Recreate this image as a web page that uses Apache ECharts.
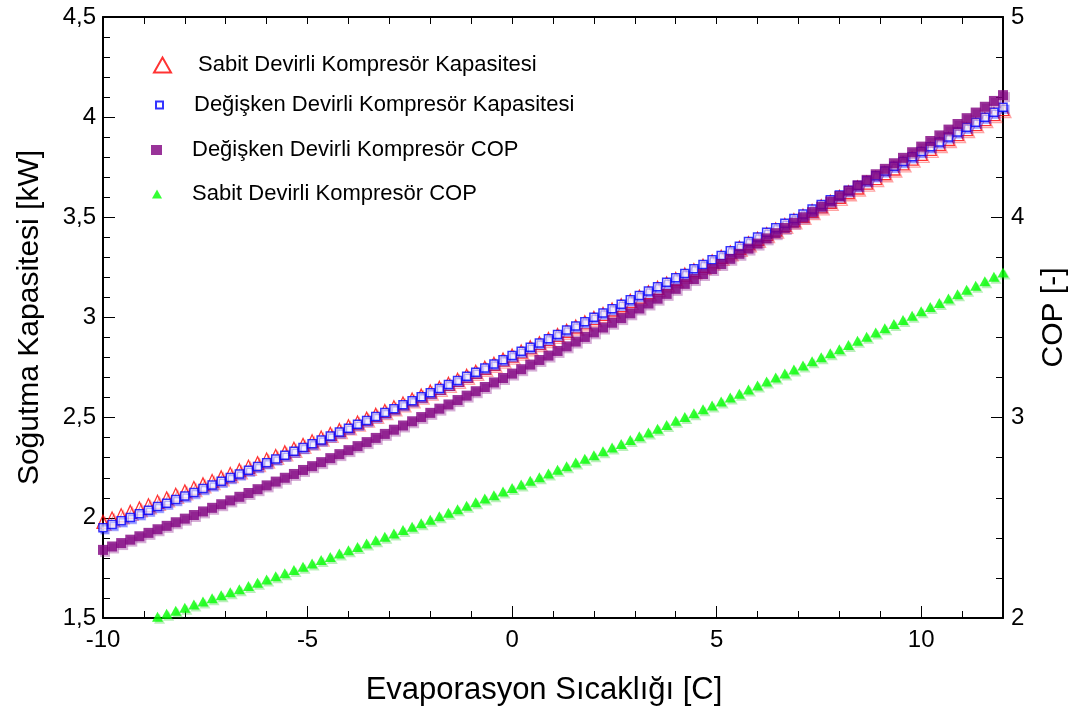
<!DOCTYPE html>
<html>
<head>
<meta charset="utf-8">
<script src="https://cdn.jsdelivr.net/npm/echarts@6/dist/echarts.min.js"></script>
<style>
  html, body { margin: 0; padding: 0; background: #ffffff; }
  #chart { width: 1077px; height: 718px; }
</style>
</head>
<body>
<div id="chart"></div>
<script>
// Evaporation temperature [C]
const temps = [
  -10, -9.778, -9.556, -9.333, -9.111, -8.889, -8.667, -8.444, -8.222,
  -8, -7.778, -7.556, -7.333, -7.111, -6.889, -6.667, -6.444, -6.222,
  -6, -5.778, -5.556, -5.333, -5.111, -4.889, -4.667, -4.444, -4.222,
  -4, -3.778, -3.556, -3.333, -3.111, -2.889, -2.667, -2.444, -2.222,
  -2, -1.778, -1.556, -1.333, -1.111, -0.889, -0.667, -0.444, -0.222,
  0, 0.222, 0.444, 0.667, 0.889, 1.111, 1.333, 1.556, 1.778,
  2, 2.222, 2.444, 2.667, 2.889, 3.111, 3.333, 3.556, 3.778,
  4, 4.222, 4.444, 4.667, 4.889, 5.111, 5.333, 5.556, 5.778,
  6, 6.222, 6.444, 6.667, 6.889, 7.111, 7.333, 7.556, 7.778,
  8, 8.222, 8.444, 8.667, 8.889, 9.111, 9.333, 9.556, 9.778,
  10, 10.222, 10.444, 10.667, 10.889, 11.111, 11.333, 11.556, 11.778,
  12
];

// Fixed-speed compressor cooling capacity [kW]
const capSabit = [
  1.980, 1.997, 2.013, 2.030, 2.047, 2.063, 2.080, 2.097, 2.115, 2.132,
  2.149, 2.167, 2.184, 2.202, 2.219, 2.237, 2.255, 2.273, 2.291, 2.309,
  2.327, 2.345, 2.364, 2.382, 2.401, 2.419, 2.438, 2.457, 2.476, 2.495,
  2.514, 2.533, 2.552, 2.571, 2.591, 2.610, 2.630, 2.649, 2.669, 2.689,
  2.709, 2.729, 2.749, 2.769, 2.790, 2.810, 2.830, 2.851, 2.872, 2.892,
  2.913, 2.934, 2.955, 2.976, 2.997, 3.018, 3.040, 3.061, 3.083, 3.104,
  3.126, 3.148, 3.170, 3.192, 3.214, 3.236, 3.258, 3.280, 3.303, 3.325,
  3.348, 3.370, 3.393, 3.416, 3.439, 3.462, 3.485, 3.508, 3.531, 3.555,
  3.578, 3.602, 3.625, 3.649, 3.673, 3.696, 3.720, 3.744, 3.769, 3.793,
  3.817, 3.842, 3.866, 3.891, 3.915, 3.940, 3.965, 3.990, 4.015, 4.040
];

// Variable-speed compressor cooling capacity [kW]
const capDegisken = [
  1.950, 1.967, 1.985, 2.002, 2.020, 2.038, 2.056, 2.073, 2.091, 2.109,
  2.127, 2.146, 2.164, 2.182, 2.201, 2.219, 2.238, 2.256, 2.275, 2.294,
  2.313, 2.332, 2.351, 2.370, 2.389, 2.408, 2.428, 2.447, 2.467, 2.486,
  2.506, 2.526, 2.545, 2.565, 2.585, 2.605, 2.625, 2.646, 2.666, 2.686,
  2.707, 2.727, 2.748, 2.768, 2.789, 2.810, 2.831, 2.852, 2.873, 2.894,
  2.915, 2.937, 2.958, 2.979, 3.001, 3.023, 3.044, 3.066, 3.088, 3.110,
  3.132, 3.154, 3.176, 3.198, 3.220, 3.243, 3.265, 3.288, 3.310, 3.333,
  3.356, 3.379, 3.402, 3.425, 3.448, 3.471, 3.494, 3.517, 3.541, 3.564,
  3.588, 3.611, 3.635, 3.659, 3.683, 3.707, 3.731, 3.755, 3.779, 3.803,
  3.828, 3.852, 3.876, 3.901, 3.926, 3.950, 3.975, 4.000, 4.025, 4.050
];

// Variable-speed compressor COP [-]
const copDegisken = [
  2.340, 2.357, 2.374, 2.391, 2.408, 2.425, 2.443, 2.460, 2.478, 2.496,
  2.514, 2.532, 2.550, 2.568, 2.587, 2.605, 2.624, 2.643, 2.662, 2.681,
  2.700, 2.719, 2.739, 2.758, 2.778, 2.798, 2.818, 2.838, 2.858, 2.878,
  2.899, 2.919, 2.940, 2.961, 2.982, 3.003, 3.024, 3.045, 3.066, 3.088,
  3.110, 3.132, 3.153, 3.176, 3.198, 3.220, 3.242, 3.265, 3.288, 3.310,
  3.333, 3.356, 3.380, 3.403, 3.426, 3.450, 3.474, 3.497, 3.521, 3.545,
  3.570, 3.594, 3.618, 3.643, 3.668, 3.692, 3.717, 3.742, 3.767, 3.793,
  3.818, 3.844, 3.869, 3.895, 3.921, 3.947, 3.973, 4.000, 4.026, 4.053,
  4.079, 4.106, 4.133, 4.160, 4.187, 4.215, 4.242, 4.270, 4.297, 4.325,
  4.353, 4.381, 4.409, 4.438, 4.466, 4.495, 4.523, 4.552, 4.581, 4.610
];

// Fixed-speed compressor COP [-]
const copSabit = [
  1.917, 1.932, 1.946, 1.961, 1.976, 1.991, 2.006, 2.021, 2.036, 2.051,
  2.067, 2.082, 2.098, 2.113, 2.129, 2.144, 2.160, 2.176, 2.192, 2.208,
  2.224, 2.240, 2.256, 2.272, 2.289, 2.305, 2.322, 2.338, 2.355, 2.372,
  2.388, 2.405, 2.422, 2.439, 2.456, 2.473, 2.491, 2.508, 2.525, 2.543,
  2.560, 2.578, 2.596, 2.613, 2.631, 2.649, 2.667, 2.685, 2.703, 2.721,
  2.740, 2.758, 2.776, 2.795, 2.813, 2.832, 2.851, 2.869, 2.888, 2.907,
  2.926, 2.945, 2.964, 2.984, 3.003, 3.022, 3.042, 3.061, 3.081, 3.101,
  3.120, 3.140, 3.160, 3.180, 3.200, 3.220, 3.240, 3.261, 3.281, 3.301,
  3.322, 3.342, 3.363, 3.384, 3.404, 3.425, 3.446, 3.467, 3.488, 3.509,
  3.531, 3.552, 3.573, 3.595, 3.616, 3.638, 3.659, 3.681, 3.703, 3.725
];

const seriesNames = [
  'Sabit Devirli Kompresör Kapasitesi',
  'Değişken Devirli Kompresör Kapasitesi',
  'Değişken Devirli Kompresör COP',
  'Sabit Devirli Kompresör COP'
];

const xTickLabels = [-10, -5, 0, 5, 10];

const FONT = '"Liberation Sans", Arial, Helvetica, sans-serif';
const BLACK = '#000000';

const pairs = ys => temps.map((t, i) => [t, ys[i]]);
const commaFmt = v => String(v).replace('.', ',');

const lineBlack = { show: true, onZero: false, lineStyle: { color: BLACK, width: 2 } };
const noSplit = { show: false };

const chart = echarts.init(document.getElementById('chart'), null, { renderer: 'canvas' });

const legendBase = {
  orient: 'vertical',
  padding: 0,
  selectedMode: false,
  itemStyle: { shadowColor: 'rgba(0,0,0,0)', shadowOffsetX: 0, shadowOffsetY: 0, shadowBlur: 0 }
};
const legendText = pad => ({ fontFamily: FONT, fontSize: 22, color: BLACK, padding: [0, 0, 0, pad] });

chart.setOption({
  animation: false,
  backgroundColor: '#ffffff',
  grid: { left: 103, right: 74, top: 17, bottom: 100, containLabel: false },
  legend: [
    Object.assign({}, legendBase, { data: [seriesNames[0]], left: 153, top: 54, itemWidth: 17, itemHeight: 15, textStyle: legendText(22) }),
    Object.assign({}, legendBase, { data: [seriesNames[1]], left: 155, top: 94, itemWidth: 7, itemHeight: 7, textStyle: legendText(26) }),
    Object.assign({}, legendBase, { data: [seriesNames[2]], left: 151, top: 139, itemWidth: 11, itemHeight: 10, textStyle: legendText(25) }),
    Object.assign({}, legendBase, { data: [seriesNames[3]], left: 152, top: 183, itemWidth: 10, itemHeight: 9, textStyle: legendText(25) })
  ],
  xAxis: [
    {
      // 1-degree ticks along the bottom edge
      type: 'value', position: 'bottom', min: -10, max: 12, interval: 1,
      axisLine: lineBlack,
      axisTick: { show: true, inside: true, length: 7, lineStyle: { color: BLACK, width: 1 } },
      axisLabel: { show: false },
      splitLine: noSplit
    },
    {
      // labelled 5-degree ticks
      type: 'value', position: 'bottom', min: -10, max: 12, interval: 5,
      axisLine: { show: false, onZero: false },
      axisTick: { show: true, inside: true, length: 12, lineStyle: { color: BLACK, width: 1 } },
      axisLabel: {
        show: true, fontFamily: FONT, fontSize: 24, color: BLACK, margin: 10,
        formatter: v => (xTickLabels.indexOf(v) >= 0 ? String(v) : '')
      },
      splitLine: noSplit,
      name: 'Evaporasyon Sıcaklığı [C]',
      nameLocation: 'middle',
      nameGap: 57,
      nameTextStyle: { fontFamily: FONT, fontSize: 31, color: BLACK, padding: [0, 18, 0, 0] }
    },
    {
      // top frame edge
      type: 'value', position: 'top', min: -10, max: 12, interval: 1,
      axisLine: lineBlack,
      axisTick: { show: true, inside: true, length: 7, lineStyle: { color: BLACK, width: 1 } },
      axisLabel: { show: false },
      splitLine: noSplit
    }
  ],
  yAxis: [
    {
      type: 'value', position: 'left', min: 1.5, max: 4.5, interval: 0.5,
      axisLine: lineBlack,
      axisTick: { show: true, inside: true, length: 12, lineStyle: { color: BLACK, width: 1 } },
      minorTick: { show: true, splitNumber: 5, length: 7, lineStyle: { color: BLACK, width: 1 } },
      axisLabel: { fontFamily: FONT, fontSize: 24, color: BLACK, margin: 7, formatter: commaFmt },
      splitLine: noSplit, minorSplitLine: noSplit,
      name: 'Soğutma Kapasitesi [kW]',
      nameLocation: 'middle',
      nameRotate: 90,
      nameGap: 58,
      nameTextStyle: { fontFamily: FONT, fontSize: 30, color: BLACK }
    },
    {
      type: 'value', position: 'right', min: 2, max: 5, interval: 1,
      axisLine: lineBlack,
      axisTick: { show: true, inside: true, length: 12, lineStyle: { color: BLACK, width: 1 } },
      minorTick: { show: true, splitNumber: 5, length: 7, lineStyle: { color: BLACK, width: 1 } },
      axisLabel: { fontFamily: FONT, fontSize: 24, color: BLACK, margin: 8, formatter: commaFmt },
      splitLine: noSplit, minorSplitLine: noSplit,
      name: 'COP [-]',
      nameLocation: 'middle',
      nameRotate: 90,
      nameGap: 36,
      nameTextStyle: { fontFamily: FONT, fontSize: 30, color: BLACK }
    }
  ],
  series: [
    {
      name: seriesNames[0], type: 'scatter', xAxisIndex: 0, yAxisIndex: 0, clip: true,
      symbol: 'triangle', symbolSize: [12, 13],
      itemStyle: {
        color: 'rgba(255,255,255,0)', borderColor: '#ff0000', borderWidth: 1.3,
        shadowColor: 'rgba(255,0,0,0.45)', shadowOffsetX: 2, shadowOffsetY: 2, shadowBlur: 0
      },
      emphasis: { disabled: true },
      data: pairs(capSabit)
    },
    {
      name: seriesNames[1], type: 'scatter', xAxisIndex: 0, yAxisIndex: 0, clip: true,
      symbol: 'rect', symbolSize: 8,
      itemStyle: {
        color: '#ffffff', borderColor: '#0000ff', borderWidth: 1.5,
        shadowColor: 'rgba(0,0,255,0.35)', shadowOffsetX: 2, shadowOffsetY: 2, shadowBlur: 0
      },
      emphasis: { disabled: true },
      data: pairs(capDegisken)
    },
    {
      name: seriesNames[2], type: 'scatter', xAxisIndex: 0, yAxisIndex: 1, clip: true,
      symbol: 'rect', symbolSize: 10,
      itemStyle: {
        color: '#800080',
        shadowColor: 'rgba(128,0,128,0.4)', shadowOffsetX: 2, shadowOffsetY: 2, shadowBlur: 0
      },
      emphasis: { disabled: true },
      data: pairs(copDegisken)
    },
    {
      name: seriesNames[3], type: 'scatter', xAxisIndex: 0, yAxisIndex: 1, clip: true,
      symbol: 'triangle', symbolSize: [11, 10],
      itemStyle: {
        color: '#00ff00',
        shadowColor: 'rgba(0,200,0,0.35)', shadowOffsetX: 2, shadowOffsetY: 2, shadowBlur: 0
      },
      emphasis: { disabled: true },
      data: pairs(copSabit)
    }
  ]
});
</script>
</body>
</html>
